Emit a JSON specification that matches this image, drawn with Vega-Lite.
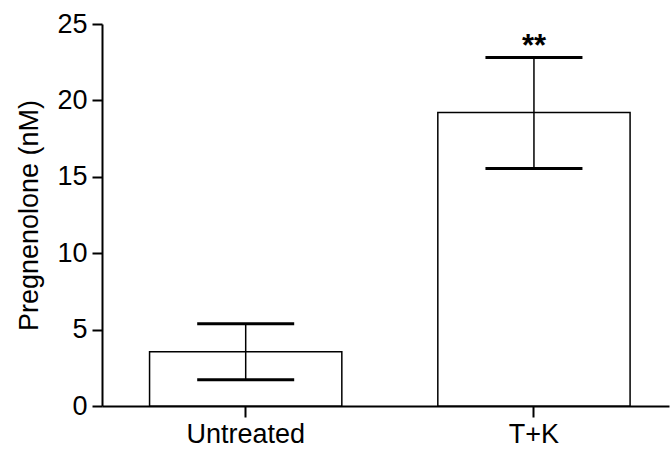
{
  "$schema": "https://vega.github.io/schema/vega-lite/v6.json",
  "width": 567,
  "height": 382,
  "autosize": {"type": "none"},
  "padding": {"left": 102, "top": 24, "right": 2, "bottom": 46},
  "background": "white",
  "config": {
    "view": {"stroke": null},
    "font": "Liberation Sans",
    "axis": {
      "domainColor": "black",
      "tickColor": "black",
      "labelColor": "black",
      "titleColor": "black",
      "domainWidth": 2,
      "tickWidth": 2,
      "grid": false,
      "labelFont": "Liberation Sans",
      "titleFont": "Liberation Sans",
      "labelFontSize": 27,
      "titleFontSize": 27,
      "titleFontWeight": "normal"
    }
  },
  "data": {
    "values": [
      {"group": "Untreated", "mean": 3.55, "lower": 1.72, "upper": 5.38, "sig": ""},
      {"group": "T+K", "mean": 19.2, "lower": 15.55, "upper": 22.8, "sig": "**"}
    ]
  },
  "encoding": {
    "x": {
      "field": "group",
      "type": "nominal",
      "sort": ["Untreated", "T+K"],
      "scale": {"paddingInner": 0.333, "paddingOuter": 0.15, "align": 0.55},
      "axis": {"title": null, "labelAngle": 0, "tickSize": 11, "labelPadding": 4}
    }
  },
  "layer": [
    {
      "mark": {"type": "bar", "fill": "white", "stroke": "black", "strokeWidth": 1.5},
      "encoding": {
        "y": {
          "field": "mean",
          "type": "quantitative",
          "title": "Pregnenolone (nM)",
          "scale": {"domain": [0, 25], "nice": false},
          "axis": {"values": [0, 5, 10, 15, 20, 25], "tickSize": 10, "labelPadding": 5, "titlePadding": 13}
        }
      }
    },
    {
      "mark": {"type": "rule", "color": "black", "strokeWidth": 1.5},
      "encoding": {
        "y": {"field": "lower", "type": "quantitative", "title": "Pregnenolone (nM)"},
        "y2": {"field": "upper"}
      }
    },
    {
      "mark": {"type": "tick", "color": "black", "thickness": 3, "size": 97, "opacity": 1},
      "encoding": {
        "y": {"field": "lower", "type": "quantitative", "title": "Pregnenolone (nM)"}
      }
    },
    {
      "mark": {"type": "tick", "color": "black", "thickness": 3, "size": 97, "opacity": 1},
      "encoding": {
        "y": {"field": "upper", "type": "quantitative", "title": "Pregnenolone (nM)"}
      }
    },
    {
      "mark": {"type": "text", "fontSize": 31, "fontWeight": "bold", "baseline": "alphabetic", "dy": -2, "color": "black"},
      "encoding": {
        "y": {"field": "upper", "type": "quantitative", "title": "Pregnenolone (nM)"},
        "text": {"field": "sig"}
      }
    }
  ]
}
